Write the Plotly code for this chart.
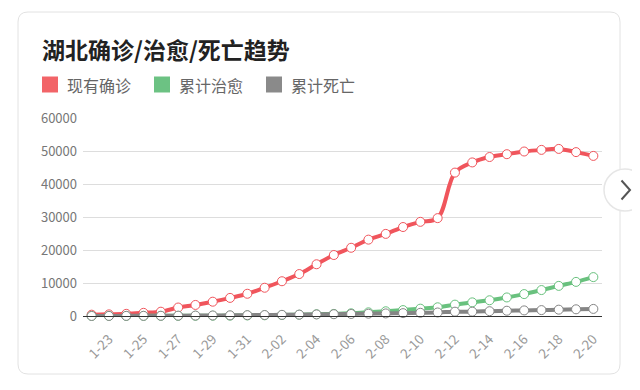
import plotly.graph_objects as go

dates = ["1-22", "1-23", "1-24", "1-25", "1-26", "1-27", "1-28", "1-29", "1-30", "1-31",
         "2-01", "2-02", "2-03", "2-04", "2-05", "2-06", "2-07", "2-08", "2-09", "2-10",
         "2-11", "2-12", "2-13", "2-14", "2-15", "2-16", "2-17", "2-18", "2-19", "2-20"]
current = [399, 494, 658, 958, 1303, 2567, 3349, 4334, 5486, 6738,
           8565, 10532, 12712, 15679, 18483, 20677, 23139, 24881, 26965, 28532,
           29659, 43455, 46537, 48175, 49030, 49847, 50338, 50633, 49665, 48510]
cured = [28, 31, 32, 42, 44, 47, 80, 90, 116, 166,
         215, 295, 396, 520, 633, 817, 1115, 1439, 1795, 2222,
         2639, 3441, 4131, 4774, 5623, 6639, 7862, 9128, 10337, 11788]
deaths = [17, 24, 39, 52, 76, 100, 125, 162, 204, 249,
          294, 350, 414, 479, 549, 618, 699, 780, 871, 974,
          1068, 1310, 1318, 1457, 1596, 1696, 1789, 1921, 2029, 2144]
series_names = ["现有确诊", "累计治愈", "累计死亡"]
line_colors = ["#f0555c", "#69c17e", "#858585"]
legend_colors = ["#f26468", "#6cc283", "#8a8a8a"]
tick_labels = dates[1::2]
title_text = "湖北确诊/治愈/死亡趋势"

# page body has an 8px margin; work in window pixels and shift
OFF = 8
W, H = 640 - OFF, 390 - OFF
L, R, T, B = 83, 602, 118, 316  # window pixel coords of plot area


def px(x):
    return (x - L) / (R - L)


def py(y):
    return (B - y) / (B - T)


FONT = "Noto Sans CJK SC, sans-serif"

fig = go.Figure()
for name, vals, col in zip(series_names, [current, cured, deaths], line_colors):
    fig.add_trace(go.Scatter(
        x=dates, y=vals, name=name, mode="lines+markers",
        line=dict(color=col, width=4, shape="spline", smoothing=1.0),
        marker=dict(size=9, color="white", line=dict(color=col, width=1)),
        cliponaxis=False, showlegend=False,
    ))


def rounded_rect(x0, y0, x1, y1, r):
    return (f"M {px(x0 + r)},{py(y0)} L {px(x1 - r)},{py(y0)} "
            f"Q {px(x1)},{py(y0)} {px(x1)},{py(y0 + r)} "
            f"L {px(x1)},{py(y1 - r)} Q {px(x1)},{py(y1)} {px(x1 - r)},{py(y1)} "
            f"L {px(x0 + r)},{py(y1)} Q {px(x0)},{py(y1)} {px(x0)},{py(y1 - r)} "
            f"L {px(x0)},{py(y0 + r)} Q {px(x0)},{py(y0)} {px(x0 + r)},{py(y0)} Z")


shapes = [
    dict(type="path", xref="paper", yref="paper", path=rounded_rect(18, 12, 620, 374, 10),
         line=dict(color="#e2e2e2", width=1), fillcolor="white", layer="below"),
    dict(type="circle", xref="paper", yref="paper",
         x0=px(604), x1=px(646), y0=py(211), y1=py(169),
         line=dict(color="#e6e6e6", width=1.5), fillcolor="white", layer="above"),
    dict(type="path", xref="paper", yref="paper",
         path=f"M {px(621.5)},{py(180.5)} L {px(630)},{py(190)} L {px(621.5)},{py(199.5)}",
         line=dict(color="#555555", width=2), layer="above"),
]

annotations = [
    dict(text=f"<b>{title_text}</b>", x=px(40), y=py(49), xref="paper", yref="paper",
         xanchor="left", yanchor="middle", showarrow=False,
         font=dict(family=FONT, size=23, color="#222222")),
]
leg_x = [42, 154, 266]
for lx, name, col in zip(leg_x, series_names, legend_colors):
    shapes.append(dict(type="rect", xref="paper", yref="paper",
                       x0=px(lx), x1=px(lx + 16), y0=py(92.5), y1=py(76.5),
                       line=dict(width=0), fillcolor=col))
    annotations.append(dict(text=name, x=px(lx + 23), y=py(85), xref="paper", yref="paper",
                            xanchor="left", yanchor="middle", showarrow=False,
                            font=dict(family=FONT, size=16, color="#666666")))

fig.update_layout(
    width=W, height=H,
    margin=dict(l=L - OFF, r=W - (R - OFF), t=T - OFF, b=H - (B - OFF), pad=0),
    paper_bgcolor="white", plot_bgcolor="rgba(0,0,0,0)",
    shapes=shapes, annotations=annotations,
    font=dict(family=FONT),
    xaxis=dict(type="category", range=[-0.5, len(dates) - 0.5],
               tickmode="array", tickvals=tick_labels, ticktext=tick_labels,
               tickangle=-45, tickfont=dict(size=13.5, color="#999999"),
               ticklabelstandoff=9,
               showgrid=False, showline=True, linecolor="#333333", linewidth=1,
               ticks="", zeroline=False),
    yaxis=dict(range=[0, 60000], dtick=10000, tickformat="d",
               tickfont=dict(size=13, color="#777777"),
               ticklabelstandoff=5,
               showgrid=True, gridcolor="#dddddd", gridwidth=1,
               zeroline=False, showline=False, ticks=""),
)

fig.write_html("out.html")
